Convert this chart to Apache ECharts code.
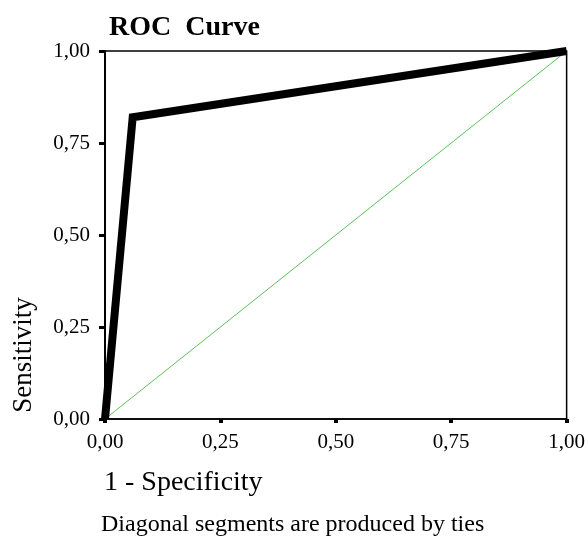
<!DOCTYPE html>
<html>
<head>
<meta charset="utf-8">
<script src="https://cdn.jsdelivr.net/npm/echarts@6/dist/echarts.min.js"></script>
<style>html,body{margin:0;padding:0;background:#fff;}#c{width:588px;height:537px;}</style>
</head>
<body>
<div id="c"></div>
<script>
// Data
const rocX = [0, 0.06, 1];
const rocY = [0, 0.82, 1];
const diagX = [0, 1];
const diagY = [0, 1];
const titleText = 'ROC  Curve';
const xName = '1 - Specificity';
const yName = 'Sensitivity';
const footnote = 'Diagonal segments are produced by ties';

const serif = '"Liberation Serif", "Times New Roman", serif';
const fmt = v => v.toFixed(2).replace('.', ',');

const chart = echarts.init(document.getElementById('c'), null, {renderer: 'canvas'});
chart.setOption({
  animation: false,
  backgroundColor: '#fff',
  title: {
    text: titleText, left: 104, top: 9,
    textStyle: {fontFamily: serif, fontWeight: 'bold', fontSize: 28, color: '#000'}
  },
  grid: {left: 105, right: 13, top: 51, bottom: 118, show: true, borderColor: '#000', borderWidth: 1.5, backgroundColor: 'transparent'},
  xAxis: {
    type: 'value', min: 0, max: 1, interval: 0.25,
    axisLine: {show: true, lineStyle: {color: '#000', width: 1.5}},
    axisTick: {show: true, length: 4, lineStyle: {color: '#000', width: 4}},
    splitLine: {show: false},
    axisLabel: {formatter: fmt, fontFamily: serif, fontSize: 21, color: '#000', margin: 13}
  },
  yAxis: {
    type: 'value', min: 0, max: 1, interval: 0.25,
    axisLine: {show: true, lineStyle: {color: '#000', width: 2}},
    axisTick: {show: true, length: 6, lineStyle: {color: '#000', width: 3}},
    splitLine: {show: false},
    axisLabel: {formatter: fmt, fontFamily: serif, fontSize: 21, color: '#000', margin: 15}
  },
  graphic: [
    {type: 'text', x: 24, y: 355, rotation: Math.PI / 2,
      style: {text: yName, font: '27px ' + serif, fill: '#000', align: 'center', verticalAlign: 'middle'}},
    {type: 'text', x: 104, y: 483,
      style: {text: xName, font: '28px ' + serif, fill: '#000', align: 'left', verticalAlign: 'middle'}},
    {type: 'text', x: 101, y: 525,
      style: {text: footnote, font: '24px ' + serif, fill: '#000', align: 'left', verticalAlign: 'middle'}}
  ],
  series: [
    {type: 'line', data: diagX.map((x, i) => [x, diagY[i]]), showSymbol: false, symbol: 'none',
      lineStyle: {color: '#5cc05c', width: 1}, z: 2, silent: true},
    {type: 'line', data: rocX.map((x, i) => [x, rocY[i]]), showSymbol: false, symbol: 'none', clip: false,
      lineStyle: {color: '#000', width: 8, join: 'miter', cap: 'butt'}, z: 3, silent: true}
  ]
});
</script>
</body>
</html>
